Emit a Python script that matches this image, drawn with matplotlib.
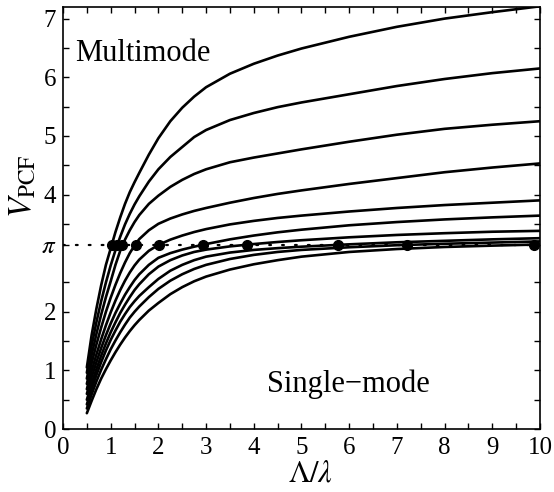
import matplotlib
matplotlib.use("Agg")
import matplotlib.pyplot as plt
from matplotlib.ticker import FixedLocator
import numpy as np

plt.rcParams['font.family'] = ['Liberation Serif', 'DejaVu Serif']
plt.rcParams['mathtext.fontset'] = 'stix'

# Lambda/lambda sample positions
x_vals = [0.5, 0.6, 0.7, 0.8, 0.9, 1.0, 1.1, 1.2, 1.3, 1.4, 1.5, 1.6, 1.8, 2.0, 2.25,
          2.5, 2.75, 3.0, 3.5, 4.0, 4.5, 5.0, 6.0, 7.0, 8.0, 9.0, 10.0]

# V_PCF curves, top to bottom
curve_1 = [1.05, 1.60, 2.05, 2.45, 2.80, 3.08, 3.36, 3.61, 3.84, 4.04, 4.21, 4.37, 4.68, 4.96, 5.25,
           5.48, 5.67, 5.83, 6.06, 6.23, 6.37, 6.49, 6.69, 6.86, 7.00, 7.11, 7.21]
curve_2 = [0.96, 1.42, 1.82, 2.18, 2.50, 2.79, 3.05, 3.28, 3.49, 3.67, 3.83, 3.97, 4.22, 4.43, 4.64,
           4.81, 4.98, 5.10, 5.27, 5.39, 5.49, 5.57, 5.71, 5.85, 5.97, 6.07, 6.15]
curve_3 = [0.86, 1.26, 1.62, 1.95, 2.25, 2.52, 2.80, 3.04, 3.23, 3.39, 3.53, 3.65, 3.84, 3.98, 4.13,
           4.25, 4.35, 4.43, 4.55, 4.63, 4.70, 4.77, 4.90, 5.02, 5.12, 5.19, 5.25]
curve_4 = [0.77, 1.12, 1.44, 1.73, 2.00, 2.24, 2.46, 2.66, 2.84, 3.00, 3.13, 3.24, 3.39, 3.50, 3.59,
           3.66, 3.72, 3.77, 3.86, 3.94, 4.01, 4.07, 4.18, 4.28, 4.38, 4.46, 4.53]
curve_5 = [0.68, 0.99, 1.27, 1.53, 1.77, 1.99, 2.19, 2.37, 2.53, 2.67, 2.79, 2.89, 3.04, 3.14, 3.23,
           3.30, 3.36, 3.41, 3.49, 3.55, 3.60, 3.64, 3.71, 3.77, 3.82, 3.86, 3.90]
curve_6 = [0.60, 0.88, 1.14, 1.38, 1.60, 1.80, 1.98, 2.14, 2.29, 2.42, 2.54, 2.64, 2.80, 2.92, 3.00,
           3.06, 3.11, 3.155, 3.235, 3.30, 3.355, 3.40, 3.475, 3.53, 3.575, 3.61, 3.64]
curve_7 = [0.50, 0.77, 1.02, 1.25, 1.46, 1.65, 1.82, 1.98, 2.12, 2.25, 2.37, 2.47, 2.64, 2.77, 2.88,
           2.96, 3.02, 3.06, 3.115, 3.155, 3.19, 3.22, 3.27, 3.31, 3.34, 3.365, 3.38]
curve_8 = [0.42, 0.68, 0.92, 1.14, 1.34, 1.52, 1.68, 1.83, 1.96, 2.08, 2.18, 2.27, 2.42, 2.56, 2.70,
           2.80, 2.88, 2.94, 3.01, 3.055, 3.085, 3.11, 3.15, 3.185, 3.21, 3.235, 3.255]
curve_9 = [0.35, 0.59, 0.81, 1.01, 1.19, 1.36, 1.51, 1.65, 1.78, 1.90, 2.00, 2.09, 2.25, 2.39, 2.53,
           2.64, 2.73, 2.80, 2.90, 2.97, 3.02, 3.055, 3.10, 3.135, 3.16, 3.18, 3.20]
curve_10 = [0.27, 0.48, 0.68, 0.86, 1.02, 1.17, 1.31, 1.44, 1.56, 1.67, 1.77, 1.86, 2.02, 2.15, 2.30,
            2.42, 2.52, 2.60, 2.72, 2.81, 2.88, 2.94, 3.02, 3.07, 3.105, 3.128, 3.148]
curves = [curve_1, curve_2, curve_3, curve_4, curve_5, curve_6, curve_7, curve_8, curve_9, curve_10]

# cutoff points where V_PCF = pi
cutoff_x = [1.03, 1.13, 1.24, 1.53, 2.01, 2.93, 3.85, 5.77, 7.21, 9.87]
cutoff_v = [np.pi] * len(cutoff_x)

y_ticks = [0, 1, 2, np.pi, 4, 5, 6, 7]
y_tick_labels = ['0', '1', '2', r'$\pi$', '4', '5', '6', '7']
x_ticks = [0, 1, 2, 3, 4, 5, 6, 7, 8, 9, 10]

fig = plt.figure(figsize=(5.54, 4.92), dpi=100)
ax = fig.add_axes([0.1137, 0.128, 0.861, 0.858])

for c in curves:
    ax.plot(x_vals, c, color='black', lw=1.9, solid_capstyle='round', solid_joinstyle='round')

ax.plot([0, 10], [np.pi, np.pi], color='black', lw=1.6, linestyle=(0, (0.8, 5)), dash_capstyle='round')
ax.plot(cutoff_x, cutoff_v, 'o', color='black', ms=7, clip_on=False, zorder=5)

ax.set_xlim(0, 10)
ax.set_ylim(0, 7.2)
ax.xaxis.set_major_locator(FixedLocator(x_ticks))
ax.xaxis.set_minor_locator(FixedLocator([i + 0.5 for i in range(10)]))
ax.yaxis.set_major_locator(FixedLocator(y_ticks))
ax.yaxis.set_minor_locator(FixedLocator([0.5, 1.5, 2.5, 3.5, 4.5, 5.5, 6.5]))
ax.set_yticklabels(y_tick_labels)
ax.tick_params(which='both', direction='in', top=True, right=True, length=4, width=1.0,
               labelsize=18)
ax.tick_params(axis='x', pad=6)
ax.tick_params(axis='y', pad=5)
for s in ax.spines.values():
    s.set_linewidth(1.2)

ax.set_xlabel(r'$\Lambda/\lambda$', fontsize=22)
ax.xaxis.set_label_coords(0.518, -0.072)
ax.set_ylabel(r'$V_{\rm PCF}$', fontsize=24)
ax.yaxis.set_label_coords(-0.052, 0.575)

ax.text(0.25, 6.27, 'Multimode', fontsize=22, ha='left', va='baseline')
ax.text(4.28, 0.63, 'Single\u2212mode', fontsize=22, ha='left', va='baseline')

fig.savefig('out.png', dpi=100)
